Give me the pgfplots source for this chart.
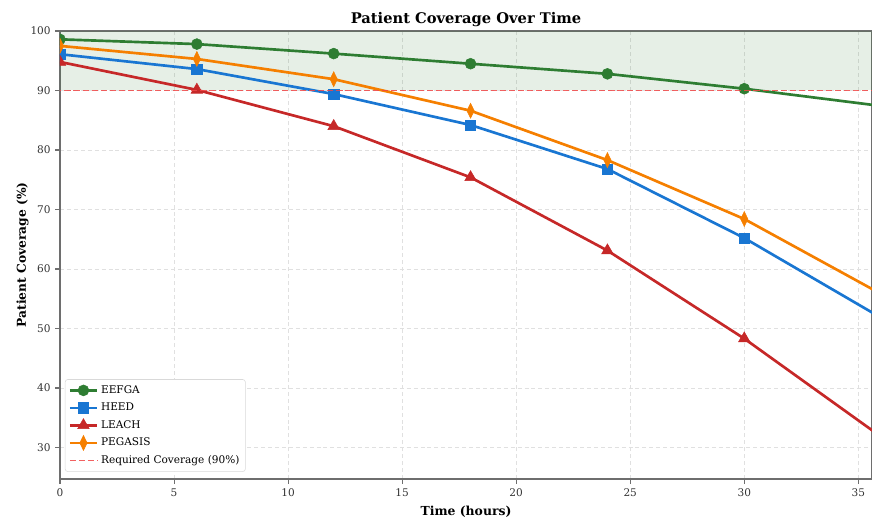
\documentclass[border=0pt]{standalone}
\usepackage{fontspec}
\setmainfont{DejaVu Serif}
\usepackage{pgfplots}
\pgfplotsset{compat=1.18}
\definecolor{cGreen}{RGB}{46,125,50}
\definecolor{cBlue}{RGB}{25,118,210}
\definecolor{cRed}{RGB}{198,40,40}
\definecolor{cOrange}{RGB}{245,127,0}
\definecolor{cRef}{RGB}{240,70,70}
\definecolor{spine}{RGB}{110,110,110}
\begin{document}
\begin{tikzpicture}
\begin{axis}[
  at={(0,0)}, anchor=south west,
  scale only axis, width=609pt, height=336pt,
  xmin=0, xmax=35.6, ymin=24.7, ymax=100,
  xtick={0,5,...,35}, ytick={30,40,...,100},
  xtick pos=bottom, ytick pos=left,
  grid=major, grid style={dash pattern=on 3pt off 2.2pt, black!12, line width=0.6pt},
  axis line style={spine, line width=1.1pt},
  tick style={spine, line width=0.8pt}, tick align=outside, major tick length=3.5pt,
  ticklabel style={font=\fontsize{7.9}{10}\selectfont, text=black!80},
  /pgf/number format/assume math mode=true,
  title={\textbf{Patient Coverage Over Time}},
  title style={font=\fontsize{11}{13}\selectfont, at={(0.5,1)}, anchor=base},
  xlabel={\textbf{Time (hours)}},
  xlabel style={font=\fontsize{9.3}{11}\selectfont, at={(0.5,-0.0818)}, anchor=base},
  ylabel={\textbf{Patient Coverage (\%)}},
  ylabel style={font=\fontsize{9.2}{11}\selectfont, at={(-0.0419,0.5)}, anchor=base},
  clip marker paths=true,
  legend cell align=left,
  legend style={at={(0.006,0.016)}, anchor=south west, draw=black!15, rounded corners=2pt,
    font=\fontsize{7.9}{9}\selectfont, row sep=1.8pt, inner sep=2.5pt},
  legend image code/.code={%
    \draw[mark repeat=2,mark phase=2] plot coordinates {(0cm,0cm) (0.36cm,0cm) (0.72cm,0cm)};},
]
\addplot[draw=none, fill=cGreen, fill opacity=0.12, forget plot]
  coordinates {(-1,90) (37,90) (37,100) (-1,100)} -- cycle;
\addplot[cGreen, line width=2pt, mark=*, mark size=4.1pt, mark options={line width=0.4pt}]
  coordinates {(0,98.6) (6,97.8) (12,96.2) (18,94.5) (24,92.8) (30,90.3) (36,87.4)};
\addlegendentry{EEFGA}
\addplot[cBlue, line width=2pt, mark=square*, mark size=3.9pt, mark options={line width=0.4pt}]
  coordinates {(0,96.1) (6,93.6) (12,89.4) (18,84.2) (24,76.8) (30,65.2) (36,51.8)};
\addlegendentry{HEED}
\addplot[cRed, line width=2pt, mark=triangle*, mark size=5pt, mark options={line width=0.4pt}]
  coordinates {(0,94.8) (6,90.1) (12,84.0) (18,75.4) (24,63.1) (30,48.3) (36,31.8)};
\addlegendentry{LEACH}
\addplot[cOrange, line width=2pt, mark=diamond*, mark size=5.6pt, mark options={line width=0.4pt, xscale=0.65}]
  coordinates {(0,97.5) (6,95.3) (12,91.9) (18,86.6) (24,78.3) (30,68.4) (36,55.8)};
\addlegendentry{PEGASIS}
\addplot[cRef, line width=1.3pt, dash pattern=on 4.6pt off 2.2pt, opacity=0.85]
  coordinates {(-1,90) (37,90)};
\addlegendentry{Required Coverage (90\%)}
\end{axis}
\pgfresetboundingbox
\path[use as bounding box] (-45pt,-30pt) rectangle (609pt,359.25pt);
\end{tikzpicture}
\end{document}
